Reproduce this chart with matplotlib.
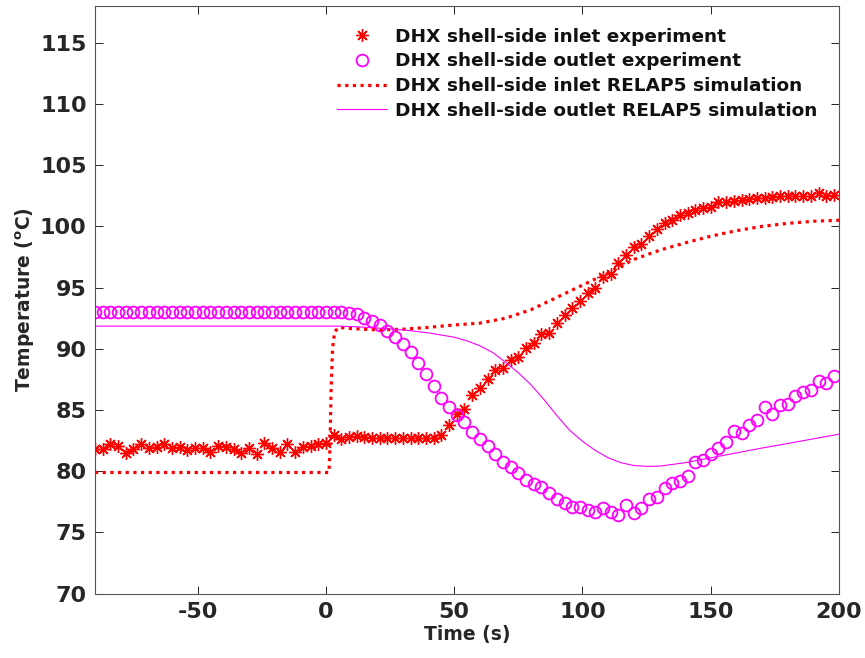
import matplotlib
matplotlib.use("Agg")
import matplotlib.pyplot as plt
import numpy as np

plt.rcParams["font.family"] = ["DejaVu Sans"]
plt.rcParams["font.weight"] = "bold"
plt.rcParams["axes.labelweight"] = "bold"
plt.rcParams["mathtext.fontset"] = "custom"
plt.rcParams["mathtext.rm"] = "DejaVu Sans:bold"
plt.rcParams["mathtext.bf"] = "DejaVu Sans:bold"
plt.rcParams["axes.unicode_minus"] = False

# experiment sampling: every 3 s from -90 to 198 s
t_exp = np.arange(-90, 199, 3)

inlet_exp = [
    81.8, 81.8, 82.2, 82.1, 81.5, 81.8, 82.2, 81.9, 82.0, 82.2,
    81.9, 82.0, 81.7, 81.9, 81.9, 81.6, 82.1, 82.0, 81.8, 81.5,
    81.9, 81.4, 82.3, 81.9, 81.6, 82.2, 81.6, 82.0, 82.1, 82.2,
    82.3,
    83.0, 82.6, 82.8, 82.9, 82.8, 82.75, 82.7, 82.7, 82.7, 82.7,
    82.7, 82.7, 82.7, 82.75, 83.0, 83.8, 84.7, 85.1, 86.2, 86.8,
    87.5, 88.3, 88.4, 89.1, 89.3, 90.1, 90.5, 91.2, 91.3, 92.1,
    92.8, 93.3, 93.9, 94.6, 95.0, 95.9, 96.1, 97.0, 97.7, 98.3,
    98.6, 99.2, 99.8, 100.3, 100.5, 100.9, 101.1, 101.35, 101.5, 101.6,
    102.0, 102.0, 102.1, 102.15, 102.25, 102.3, 102.3, 102.4, 102.5, 102.45,
    102.5, 102.5, 102.5, 102.7, 102.5, 102.6,
]

outlet_exp = [93.0] * 33 + [
    92.95, 92.87, 92.55, 92.27, 91.97, 91.45, 90.96, 90.42, 89.74, 88.84,
    87.92, 86.94, 86.0, 85.25, 84.6, 84.03, 83.23, 82.6, 82.05, 81.43,
    80.73, 80.36, 79.87, 79.27, 79.0, 78.68, 78.24, 77.7, 77.4, 77.12,
    77.07, 76.85, 76.69, 76.96, 76.69, 76.42, 77.23, 76.56, 76.96, 77.7,
    77.86, 78.6, 79.06, 79.19, 79.6, 80.77, 80.9, 81.4, 81.86, 82.4,
    83.3, 83.13, 83.76, 84.17, 85.25, 84.71, 85.39, 85.47, 86.13, 86.48,
    86.67, 87.35, 87.21, 87.76,
]

# RELAP5 simulation curves (read at breakpoints)
t_sim_in = [-90, 1.2, 1.6, 2.0, 2.6, 3.4, 5, 10, 20, 30, 40, 50, 60, 70, 80, 90,
            100, 110, 120, 130, 140, 150, 160, 170, 180, 190, 200]
inlet_sim = [79.9, 79.9, 82.0, 86.5, 90.0, 91.4, 91.75, 91.65, 91.55, 91.6, 91.75,
             91.95, 92.1, 92.5, 93.2, 94.2, 95.2, 96.2, 97.3, 98.05, 98.65,
             99.2, 99.65, 100.0, 100.25, 100.42, 100.5]

t_sim_out = [-90, 5, 10, 20, 30, 40, 50, 55, 60, 65, 70, 75, 80, 85, 90, 95,
             100, 105, 110, 115, 120, 125, 130, 140, 150, 160, 170, 180, 190, 200]
outlet_sim = [91.85, 91.85, 91.82, 91.7, 91.55, 91.3, 90.95, 90.65, 90.25, 89.7,
              88.9, 88.05, 87.05, 85.85, 84.55, 83.35, 82.45, 81.7, 81.1, 80.7,
              80.47, 80.4, 80.42, 80.7, 81.1, 81.5, 81.9, 82.27, 82.65, 83.03]

labels = [
    "DHX shell-side inlet experiment",
    "DHX shell-side outlet experiment",
    "DHX shell-side inlet RELAP5 simulation",
    "DHX shell-side outlet RELAP5 simulation",
]

fig = plt.figure(figsize=(8.65, 6.58), dpi=100)
ax = fig.add_axes([0.1098, 0.0977, 0.8602, 0.8932])

ax.plot(t_exp, inlet_exp, linestyle="none", marker=(8, 2, 0), markersize=9,
        markeredgewidth=1.0, color="red", label=labels[0])
ax.plot(t_exp, outlet_exp, linestyle="none", marker="o", markersize=8.5,
        markeredgewidth=1.3, markerfacecolor="none", markeredgecolor="magenta",
        label=labels[1])
ax.plot(t_sim_in, inlet_sim, color="red", linewidth=2.3,
        linestyle=(0, (1, 1.4)), dash_capstyle="butt", label=labels[2])
ax.plot(t_sim_out, outlet_sim, color="magenta", linewidth=0.8, label=labels[3])

ax.set_xlim(-90, 200)
ax.set_ylim(70, 118)
ax.set_xticks([-50, 0, 50, 100, 150, 200])
ax.set_yticks(np.arange(70, 116, 5))
ax.tick_params(direction="in", length=6, width=0.7, top=True, right=True,
               labelsize=16, colors="#262626", pad=6)
for sp in ax.spines.values():
    sp.set_color("#555555")
    sp.set_linewidth(0.8)

ax.set_xlabel("Time (s)", fontsize=13.5, color="#262626", labelpad=2)
ax.set_ylabel(r"Temperature ($^{\rm o}$C)", fontsize=13.5, color="#262626", labelpad=2)

leg = ax.legend(loc="upper right", frameon=False, fontsize=13.3, handlelength=2.75,
                handletextpad=0.4, labelspacing=0.36, borderaxespad=0.3,
                bbox_to_anchor=(0.988, 0.985))
for txt in leg.get_texts():
    txt.set_color("#111111")

fig.savefig("out.png", dpi=100)
